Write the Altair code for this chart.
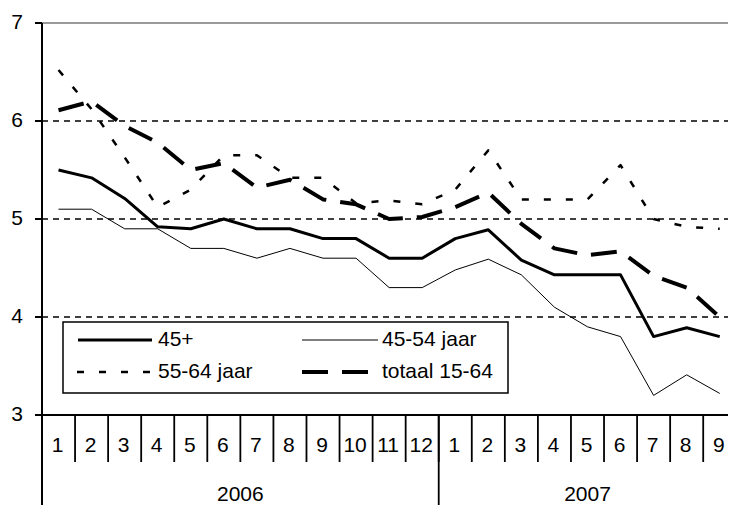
import altair as alt
import pandas as pd

# ---------------- data ----------------
months = ["1", "2", "3", "4", "5", "6", "7", "8", "9", "10", "11", "12",
          "1", "2", "3", "4", "5", "6", "7", "8", "9"]
years = ["2006", "2007"]
year_of_month = ["2006"] * 12 + ["2007"] * 9

series_names = ["45+", "45-54 jaar", "55-64 jaar", "totaal 15-64"]
v_45plus = [5.5, 5.42, 5.21, 4.92, 4.9, 5.0, 4.9, 4.9, 4.8, 4.8, 4.6, 4.6,
            4.8, 4.89, 4.58, 4.43, 4.43, 4.43, 3.8, 3.89, 3.8]
v_45_54 = [5.1, 5.1, 4.9, 4.9, 4.7, 4.7, 4.6, 4.7, 4.6, 4.6, 4.3, 4.3,
           4.48, 4.59, 4.43, 4.1, 3.9, 3.8, 3.2, 3.41, 3.22]
v_55_64 = [6.52, 6.12, 5.63, 5.12, 5.3, 5.65, 5.65, 5.42, 5.42, 5.16, 5.19, 5.15,
           5.3, 5.7, 5.2, 5.2, 5.2, 5.55, 5.0, 4.92, 4.9]
v_totaal = [6.11, 6.2, 5.95, 5.78, 5.5, 5.57, 5.32, 5.4, 5.2, 5.15, 5.0, 5.02,
            5.12, 5.27, 4.95, 4.7, 4.63, 4.67, 4.42, 4.3, 4.0]
y_ticks = [3, 4, 5, 6, 7]
grid_values = [4, 5, 6]

# ---------------- styles ----------------
FONT = "Liberation Sans"
FS = 21
W, H = 686, 392
X_DOMAIN = [-0.5, len(months) - 0.75]

styles = {
    "45+": dict(strokeWidth=3),
    "45-54 jaar": dict(strokeWidth=1),
    "55-64 jaar": dict(strokeWidth=2.5, strokeDash=[7, 15]),
    "totaal 15-64": dict(strokeWidth=4, strokeDash=[26, 14]),
}

idx = list(range(len(months)))
xs = alt.Scale(domain=X_DOMAIN, nice=False, zero=False)
ys = alt.Scale(domain=[3, 7], nice=False, zero=False)

rows = []
for name, vals in zip(series_names, [v_45plus, v_45_54, v_55_64, v_totaal]):
    for i, v in zip(idx, vals):
        rows.append({"i": i, "value": v, "series": name})
lines_df = pd.DataFrame(rows)

month_df = pd.DataFrame({"i": idx, "label": months, "year": year_of_month})
sep_df = pd.DataFrame({"b": [i + 0.5 for i in idx[:-1]]})
year_df = month_df.groupby("year", as_index=False)["i"].mean()
year_sep_df = pd.DataFrame({"b": [month_df[month_df.year == years[0]].i.max() + 0.5]})
ytick_df = pd.DataFrame({"y": y_ticks})
grid_df = pd.DataFrame({"y": grid_values})
top_df = pd.DataFrame({"y": [max(y_ticks)]})

X = lambda f: alt.X(f, type="quantitative", scale=xs, axis=None)
Y = lambda f: alt.Y(f, type="quantitative", scale=ys, axis=None)

layers = []

# grid lines
layers.append(alt.Chart(grid_df).mark_rule(color="black", strokeWidth=1.5, strokeDash=[6, 5]).encode(
    y=Y("y"), x=alt.value(0), x2=alt.value(W)))
# top line
layers.append(alt.Chart(top_df).mark_rule(color="#9a9a9a", strokeWidth=2).encode(
    y=Y("y"), x=alt.value(0), x2=alt.value(W)))

# series lines
for name in series_names:
    layers.append(alt.Chart(lines_df[lines_df.series == name]).mark_line(
        color="black", strokeCap="butt", strokeJoin="round", **styles[name]).encode(
        x=X("i"), y=Y("value")))

# y axis
layers.append(alt.Chart(ytick_df).mark_rule(color="black", strokeWidth=2).encode(
    y=Y("y"), x=alt.value(-7), x2=alt.value(0)))
layers.append(alt.Chart(ytick_df).mark_text(font=FONT, fontSize=FS, align="right", baseline="middle",
                                             color="black").encode(
    y=Y("y"), x=alt.value(-19), text=alt.Text("y:Q", format="d")))
layers.append(alt.Chart(top_df).mark_rule(color="black", strokeWidth=2).encode(
    x=alt.value(0), y=alt.value(0), y2=alt.value(H + 110)))
# x axis
layers.append(alt.Chart(ytick_df).transform_filter(alt.datum.y == min(y_ticks)).mark_rule(
    color="black", strokeWidth=2).encode(y=Y("y"), x=alt.value(0), x2=alt.value(W)))
layers.append(alt.Chart(sep_df).mark_rule(color="black", strokeWidth=1.8).encode(
    x=X("b"), y=alt.value(H), y2=alt.value(H + 47)))
layers.append(alt.Chart(year_sep_df).mark_rule(color="black", strokeWidth=1.8).encode(
    x=X("b"), y=alt.value(H), y2=alt.value(H + 110)))
layers.append(alt.Chart(month_df).mark_text(font=FONT, fontSize=FS, align="center", baseline="middle",
                                             dx=-1, color="black").encode(
    x=X("i"), y=alt.value(H + 31), text="label:N"))
layers.append(alt.Chart(year_df).mark_text(font=FONT, fontSize=FS, align="center", baseline="middle",
                                            color="black").encode(
    x=X("i"), y=alt.value(H + 80), text="year:N"))

# legend box
leg_df = pd.DataFrame({"series": series_names})
layers.append(alt.Chart(leg_df.head(1)).mark_rect(fill="white", stroke="black", strokeWidth=1.5).encode(
    x=alt.value(21), x2=alt.value(466), y=alt.value(299), y2=alt.value(370)))
leg_pos = {
    # symbol start, symbol end, label start, row y
    "45+": (36, 110, 116, 317),
    "45-54 jaar": (260, 336, 340, 317),
    "55-64 jaar": (35, 111, 116, 349),
    "totaal 15-64": (260, 334, 340, 349),
}
for name in series_names:
    x0, x1, xl, yy = leg_pos[name]
    sub = leg_df[leg_df.series == name]
    layers.append(alt.Chart(sub).mark_rule(color="black", strokeCap="butt", **styles[name]).encode(
        x=alt.value(x0), x2=alt.value(x1), y=alt.value(yy)))
    layers.append(alt.Chart(sub).mark_text(font=FONT, fontSize=FS, align="left", baseline="middle",
                                           color="black").encode(
        x=alt.value(xl), y=alt.value(yy), text="series:N"))

chart = alt.layer(*layers).properties(
    width=W, height=H,
    autosize=alt.AutoSizeParams(type="none"),
    padding={"left": 34, "top": 15, "right": 0, "bottom": 92},
).configure_view(stroke=None)

chart.save("out.html", embed_options={"renderer": "svg", "actions": False})
